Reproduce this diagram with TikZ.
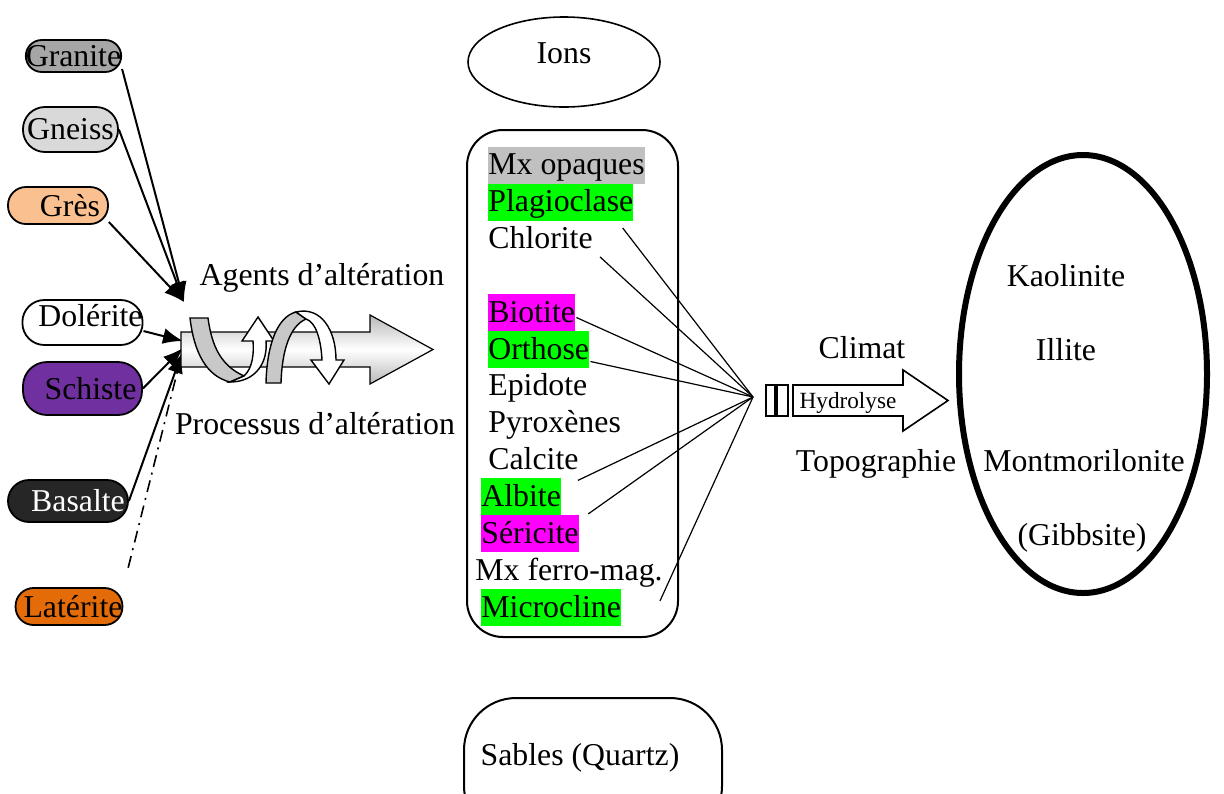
\documentclass[tikz,border=0pt]{standalone}
\usepackage{fontspec}
\setmainfont{Liberation Serif}
\usetikzlibrary{arrows.meta,positioning,shapes.geometric}

\definecolor{granitegray}{HTML}{A6A6A6}
\definecolor{gneissgray}{HTML}{D9D9D9}
\definecolor{grespeach}{HTML}{FAC090}
\definecolor{schistepurple}{HTML}{7030A0}
\definecolor{basaltedark}{HTML}{262626}
\definecolor{lateriteorange}{HTML}{E36C09}
\definecolor{hlgray}{HTML}{C0C0C0}
\definecolor{hlgreen}{HTML}{00FF00}
\definecolor{hlmagenta}{HTML}{FF00FF}
\definecolor{ribbongray}{HTML}{C8C8C8}

\tikzset{
  rock/.style={draw,line width=0.9pt,inner sep=0pt},
  feed/.style={line width=1pt,-{Latex[length=10pt,width=8pt]}},
  mineral/.style={anchor=west,inner xsep=0pt,inner ysep=0pt,text height=14pt,text depth=4.5pt},
  tie/.style={line width=0.6pt},
  band/.style={draw,line width=0.7pt,fill=ribbongray},
  curl/.style={draw,line width=0.7pt,fill=white},
  label/.style={anchor=base,inner sep=0pt}
}

\begin{document}
\begin{tikzpicture}[x=0.5pt,y=-0.5pt,font=\fontsize{15.9}{19}\selectfont]
  \useasboundingbox (0,0) rectangle (1224,793);

  % rocks
  \node[rock,fill=granitegray,minimum width=47.5pt,minimum height=16pt,rounded corners=8pt] (granite) at (73.5,56) {Granite};
  \node[rock,fill=gneissgray,minimum width=47.5pt,minimum height=22.5pt,rounded corners=11pt] (gneiss) at (70.5,129.5) {Gneiss};
  \node[rock,fill=grespeach,minimum width=50pt,minimum height=18.5pt,rounded corners=9pt] (gres) at (58,205.5) {\hspace{12pt}Grès};
  \node[rock,fill=white,minimum width=59.5pt,minimum height=22.5pt,rounded corners=11pt,text depth=7pt] (dolerite) at (82.5,322.5) {\hspace{8pt}Dolérite};
  \node[rock,fill=schistepurple,minimum width=59.5pt,minimum height=26.5pt,rounded corners=12pt] (schiste) at (82.5,388.5) {\hspace{8pt}Schiste};
  \node[rock,fill=basaltedark,text=white,minimum width=60pt,minimum height=21pt,rounded corners=10.5pt] (basalte) at (68,501) {\hspace{10pt}Basalte};
  \node[rock,fill=lateriteorange,minimum width=53pt,minimum height=18.5pt,rounded corners=9pt] (laterite) at (69,606.5) {\hspace{4pt}Latérite};

  \coordinate (upin)  at (184,302);
  \coordinate (lowin1) at (183,341);
  \coordinate (lowin2) at (183,348);
  \coordinate (lowin3) at (182,353);

  \draw[feed] (granite.-15) -- (upin);
  \draw[feed] (gneiss.east) -- (upin);
  \draw[feed] (gres.-18) -- (upin);
  \draw[feed] (dolerite.-8) -- (lowin1);
  \draw[feed] (schiste.east) -- (lowin2);
  \draw[feed] (basalte.east) -- (lowin3);
  \draw[line width=0.8pt,dash pattern=on 6pt off 3pt on 1pt off 3pt,shorten <=10pt] (laterite.north east) -- (lowin3);

  % process arrow
  \shade[top color=gray!55,bottom color=gray!55,middle color=white,draw=black,line width=0.6pt]
    (181,332) -- (370,332) -- (370,315) -- (433,349.5) -- (370,384) -- (370,367) -- (181,367) -- cycle;
  \path[band] (190,318) -- (208,318) .. controls (212,348) and (222,366) .. (244,376)
    -- (230,382) .. controls (206,376) and (194,352) .. (190,318) -- cycle;
  \path[curl] (244,376) .. controls (253,368) and (254,352) .. (253,341) -- (242,341) -- (258,317)
    -- (274,341) -- (266,341) .. controls (268,362) and (256,382) .. (230,382) -- cycle;
  \path[band] (266,383) -- (281,383) .. controls (282,350) and (290,326) .. (306,319)
    -- (296,312) .. controls (277,317) and (267,345) .. (266,383) -- cycle;
  \path[curl] (296,312) .. controls (321,306) and (336,330) .. (336,360) -- (344,360) -- (329,384)
    -- (311,360) -- (322,360) .. controls (321,340) and (316,322) .. (306,319) -- cycle;

  \node[label] (agents) at (322,285) {Agents d’altération};
  \node[label] (processus) at (315,434) {Processus d’altération};

  % products
  \node[draw,ellipse,line width=0.8pt,minimum width=96pt,minimum height=45pt,text depth=9pt] (ions) at (564,62) {Ions};
  \node[draw,line width=1pt,rounded corners=18pt,minimum width=105.5pt,minimum height=253.5pt] (minbox) at (572.5,383.5) {};
  \node[draw,line width=1pt,rounded corners=26pt,minimum width=129pt,minimum height=70pt,anchor=north west] (sables) at (463,697) {};
  \node[label] (quartz) at (580,765) {Sables (Quartz)};

  \node[mineral,fill=hlgray]    (mxop)       at (488,165)   {Mx opaques};
  \node[mineral,fill=hlgreen]   (plagio)     at (488,202)   {Plagioclase};
  \node[mineral]                (chlorite)   at (488,239)   {Chlorite};
  \node[mineral,fill=hlmagenta] (biotite)    at (488,312.5) {Biotite};
  \node[mineral,fill=hlgreen]   (orthose)    at (488,349.5) {Orthose};
  \node[mineral]                (epidote)    at (488,386)   {Epidote};
  \node[mineral]                (pyrox)      at (488,423)   {Pyroxènes};
  \node[mineral]                (calcite)    at (488,460)   {Calcite};
  \node[mineral,fill=hlgreen]   (albite)     at (481,496.5) {Albite};
  \node[mineral,fill=hlmagenta] (sericite)   at (481,533.5) {Séricite};
  \node[mineral]                (mxferro)    at (475,571)   {Mx ferro-mag.};
  \node[mineral,fill=hlgreen]   (microcline) at (481,607.5) {Microcline};

  \coordinate (hub) at (753,397);
  \draw[tie] ([shift={(-11,7)}]plagio.south east) -- (hub);
  \draw[tie] ([shift={(7,-1)}]chlorite.south east) -- (hub);
  \draw[tie] ([shift={(1,5)}]biotite.east) -- (hub);
  \draw[tie] ([shift={(1,12)}]orthose.east) -- (hub);
  \draw[tie] ([shift={(-1,1.5)}]calcite.south east) -- (hub);
  \draw[tie] ([shift={(27,-1.5)}]albite.south east) -- (hub);
  \draw[tie] ([shift={(-3,11)}]mxferro.south east) -- (hub);

  % hydrolysis
  \draw[line width=0.8pt] (766,385) rectangle (775,416);
  \draw[line width=0.8pt] (777,385) rectangle (788,416);
  \draw[line width=0.8pt] (793,385) -- (903,385) -- (903,370) -- (948,400.5) -- (903,431) -- (903,416) -- (793,416) -- cycle;
  \node[label,font=\fontsize{11.6}{14}\selectfont] (hydro) at (848,408) {Hydrolyse};
  \node[label] (climat) at (862,358) {Climat};
  \node[label] (topo) at (876,471) {Topographie};

  % clays
  \node[draw,ellipse,line width=3pt,minimum width=124pt,minimum height=219pt] (clays) at (1083,374) {};
  \node[label] (kaolinite) at (1066,286) {Kaolinite};
  \node[label] (illite) at (1066,360) {Illite};
  \node[label] (montmo) at (1084,471) {Montmorilonite};
  \node[label] (gibbsite) at (1082,545) {(Gibbsite)};
\end{tikzpicture}
\end{document}
